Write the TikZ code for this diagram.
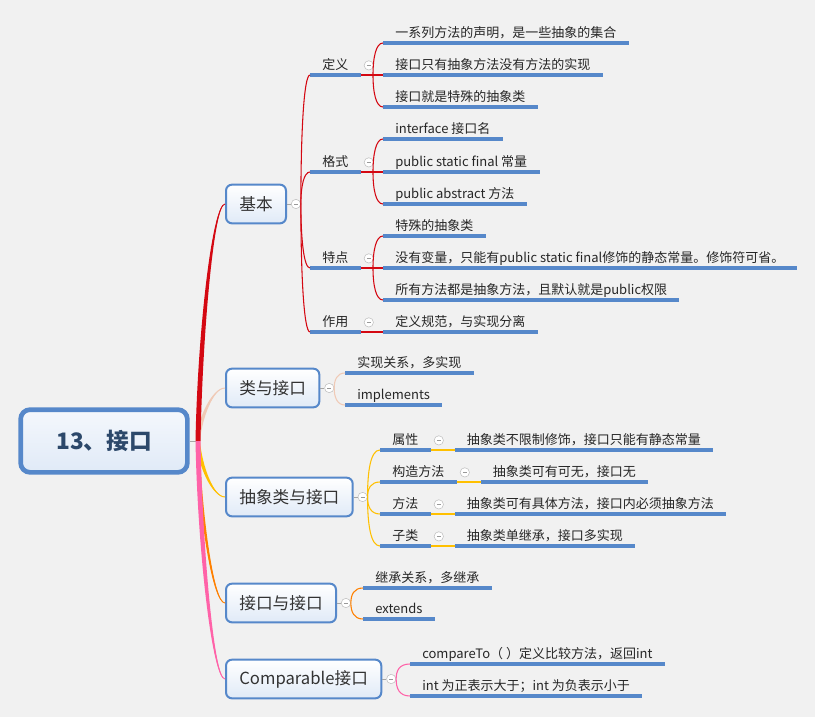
\documentclass[tikz,border=0pt]{standalone}
\usepackage{fontspec}
\setmainfont{Noto Sans CJK SC}
\usepackage{tikz}
\usetikzlibrary{
	positioning,
	calc
}
\definecolor{main}{RGB}{86,136,202}
\definecolor{bgcol}{RGB}{241,241,241}
\definecolor{rootfill}{RGB}{224,234,247}
\definecolor{roottext}{RGB}{44,72,106}
\definecolor{cstred}{RGB}{212,8,18}
\definecolor{cstpeach}{RGB}{240,202,182}
\definecolor{cstgold}{RGB}{255,192,0}
\definecolor{cstorange}{RGB}{255,128,0}
\definecolor{cstpink}{RGB}{255,98,168}
\tikzset{
  % line
	cstl/.style      ={line width=.8pt},
	cstgrey/.style   ={draw=black!35, line width=.6pt},
	cstuline/.style  ={draw=main, line width=2.6pt},
	cstcurve/.style  ={to path={.. controls ($(\tikztostart)!.55!(\tikztostart |- \tikztotarget)$) and ($(\tikztostart |- \tikztotarget)+(3,0)$) .. (\tikztotarget)}},
  % node
	cstroot/.style   ={draw=main, line width=3.5pt, rounded corners=7pt, top color=rootfill!35, bottom color=rootfill, minimum width=125pt, minimum height=47pt, font=\fontsize{17pt}{20pt}\selectfont\bfseries, text=roottext},
	cstmain/.style   ={draw=main, line width=1.5pt, rounded corners=4.5pt, top color=white, bottom color=rootfill, inner xsep=10pt, minimum height=29pt, anchor=west, font=\fontsize{12.5pt}{15pt}\selectfont, text=black!80},
	cstleaf/.style   ={anchor=south west, inner xsep=9pt, inner ysep=0pt, text height=7.5pt, text depth=1.5pt, minimum height=14pt, font=\fontsize{9.75pt}{12pt}\selectfont, text=black!85, append after command={(\tikzlastnode.south west) edge[cstuline] (\tikzlastnode.south east)}},
	cstfold/.style   ={circle, draw=black!25, fill=white, minimum size=7pt, inner sep=0pt, path picture={\draw[black!40, line width=.5pt] ($(path picture bounding box.center)+(-2,0)$) -- ($(path picture bounding box.center)+(2,0)$);}}
}
% tapered branch from (hub) to a main topic
\newcommand{\cstbranch}[3]{%
	\fill[#1] ($(hub)+(-#3,0)$) .. controls ($(hub)!.45!(hub |- #2.west)+(2-#3,0)$) and ($(hub |- #2.west)+(14,0)$) .. (#2.west)
	.. controls ($(hub |- #2.west)+(16,0)$) and ($(hub)!.45!(hub |- #2.west)+(2+#3,0)$) .. ($(hub)+(#3,0)$) -- cycle;
	\draw[#1, line width=.7pt] (hub) .. controls ($(hub)!.45!(hub |- #2.west)+(2,0)$) and ($(hub |- #2.west)+(15,0)$) .. (#2.west);}

\begin{document}
\begin{tikzpicture}[x=.75pt, y=-.75pt]
	\fill[bgcol] (0,0) rectangle (815,717);
	\node[cstroot] (root) at (104,441) {13、接口};
	\coordinate (hub) at (198,441);
	\draw[cstgrey] (root.east) -- (hub);

	\node[cstmain] (jiben) at (225,204) {基本};
	\node[cstmain] (leiyu) at (225,388) {类与接口};
	\node[cstmain] (chouxiang) at (225,497) {抽象类与接口};
	\node[cstmain] (jiekou) at (225,603) {接口与接口};
	\node[cstmain] (compar) at (225,679) {Comparable接口};

	\cstbranch{cstpeach}{leiyu}{2}
	\cstbranch{cstgold}{chouxiang}{2}
	\cstbranch{cstorange}{jiekou}{1.5}
	\cstbranch{cstred}{jiben}{2.5}
	\cstbranch{cstpink}{compar}{2.5}

	\node[cstfold, right=3pt of jiben] (jibenf) {};
	\node[cstfold, right=3pt of leiyu] (leiyuf) {};
	\node[cstfold, right=3pt of chouxiang] (chouxiangf) {};
	\node[cstfold, right=3pt of jiekou] (jiekouf) {};
	\node[cstfold, right=3pt of compar] (comparf) {};
	\draw[cstgrey] (jiben.east) -- (jibenf);
	\draw[cstgrey] (leiyu.east) -- (leiyuf);
	\draw[cstgrey] (chouxiang.east) -- (chouxiangf);
	\draw[cstgrey] (jiekou.east) -- (jiekouf);
	\draw[cstgrey] (compar.east) -- (comparf);

	% 基本
	\node[cstleaf] (dingyi) at (310,75) {定义};
	\node[cstleaf] (geshi) at (310,172) {格式};
	\node[cstleaf] (tedian) at (310,268) {特点};
	\node[cstleaf] (zuoyong) at (310,332) {作用};
	\node[cstfold, right=2.5pt of dingyi] (dingyif) {};
	\node[cstfold, right=2.5pt of geshi] (geshif) {};
	\node[cstfold, right=2.5pt of tedian] (tedianf) {};
	\node[cstfold, right=2.5pt of zuoyong] (zuoyongf) {};
	\draw[cstl,cstred] (jibenf.east) to[cstcurve] (dingyi.south west);
	\draw[cstl,cstred] (jibenf.east) to[cstcurve] (geshi.south west);
	\draw[cstl,cstred] (jibenf.east) to[cstcurve] (tedian.south west);
	\draw[cstl,cstred] (jibenf.east) to[cstcurve] (zuoyong.south west);

	\node[cstleaf] (dingyi1) at (383,43) {一系列方法的声明，是一些抽象的集合};
	\node[cstleaf] (dingyi2) at (383,75) {接口只有抽象方法没有方法的实现};
	\node[cstleaf] (dingyi3) at (383,107) {接口就是特殊的抽象类};
	\coordinate (dingyih) at (373,75);
	\draw[cstl,cstred] (dingyi.south east) -- (dingyih);
	\draw[cstl,cstred] (dingyih) to[cstcurve] (dingyi1.south west);
	\draw[cstl,cstred] (dingyih) -- (dingyi2.south west);
	\draw[cstl,cstred] (dingyih) to[cstcurve] (dingyi3.south west);

	\node[cstleaf] (geshi1) at (383,139) {interface 接口名};
	\node[cstleaf] (geshi2) at (383,172) {public static final 常量};
	\node[cstleaf] (geshi3) at (383,204) {public abstract 方法};
	\coordinate (geshih) at (373,172);
	\draw[cstl,cstred] (geshi.south east) -- (geshih);
	\draw[cstl,cstred] (geshih) to[cstcurve] (geshi1.south west);
	\draw[cstl,cstred] (geshih) -- (geshi2.south west);
	\draw[cstl,cstred] (geshih) to[cstcurve] (geshi3.south west);

	\node[cstleaf] (tedian1) at (383,236) {特殊的抽象类};
	\node[cstleaf] (tedian2) at (383,268) {没有变量，只能有public static final修饰的静态常量。修饰符可省。};
	\node[cstleaf] (tedian3) at (383,300) {所有方法都是抽象方法，且默认就是public权限};
	\coordinate (tedianh) at (373,268);
	\draw[cstl,cstred] (tedian.south east) -- (tedianh);
	\draw[cstl,cstred] (tedianh) to[cstcurve] (tedian1.south west);
	\draw[cstl,cstred] (tedianh) -- (tedian2.south west);
	\draw[cstl,cstred] (tedianh) to[cstcurve] (tedian3.south west);

	\node[cstleaf] (zuoyong1) at (383,332) {定义规范，与实现分离};
	\draw[cstl,cstred] (zuoyong.south east) -- (zuoyong1.south west);

	% 类与接口
	\node[cstleaf] (leiyu1) at (345,373) {实现关系，多实现};
	\node[cstleaf] (leiyu2) at (345,405) {implements};
	\draw[cstl,cstpeach] (leiyuf.east) to[cstcurve] (leiyu1.south west);
	\draw[cstl,cstpeach] (leiyuf.east) to[cstcurve] (leiyu2.south west);

	% 抽象类与接口
	\node[cstleaf] (shuxing) at (380,450) {属性};
	\node[cstleaf] (gouzao) at (380,482) {构造方法};
	\node[cstleaf] (fangfa) at (380,514) {方法};
	\node[cstleaf] (zilei) at (380,546) {子类};
	\node[cstfold, right=2.5pt of shuxing] (shuxingf) {};
	\node[cstfold, right=2.5pt of gouzao] (gouzaof) {};
	\node[cstfold, right=2.5pt of fangfa] (fangfaf) {};
	\node[cstfold, right=2.5pt of zilei] (zileif) {};
	\draw[cstl,cstgold] (chouxiangf.east) to[cstcurve] (shuxing.south west);
	\draw[cstl,cstgold] (chouxiangf.east) to[cstcurve] (gouzao.south west);
	\draw[cstl,cstgold] (chouxiangf.east) to[cstcurve] (fangfa.south west);
	\draw[cstl,cstgold] (chouxiangf.east) to[cstcurve] (zilei.south west);
	\node[cstleaf, right=18pt of shuxing.south east, anchor=south west] (shuxing1) {抽象类不限制修饰，接口只能有静态常量};
	\node[cstleaf, right=18pt of gouzao.south east, anchor=south west] (gouzao1) {抽象类可有可无，接口无};
	\node[cstleaf, right=18pt of fangfa.south east, anchor=south west] (fangfa1) {抽象类可有具体方法，接口内必须抽象方法};
	\node[cstleaf, right=18pt of zilei.south east, anchor=south west] (zilei1) {抽象类单继承，接口多实现};
	\draw[cstl,cstgold] (shuxing.south east) -- (shuxing1.south west);
	\draw[cstl,cstgold] (gouzao.south east) -- (gouzao1.south west);
	\draw[cstl,cstgold] (fangfa.south east) -- (fangfa1.south west);
	\draw[cstl,cstgold] (zilei.south east) -- (zilei1.south west);

	% 接口与接口
	\node[cstleaf] (jiekou1) at (363,588) {继承关系，多继承};
	\node[cstleaf] (jiekou2) at (363,619) {extends};
	\draw[cstl,cstorange] (jiekouf.east) to[cstcurve] (jiekou1.south west);
	\draw[cstl,cstorange] (jiekouf.east) to[cstcurve] (jiekou2.south west);

	% Comparable接口
	\node[cstleaf] (compar1) at (410,664) {compareTo（ ）定义比较方法，返回int};
	\node[cstleaf] (compar2) at (410,696) {int 为正表示大于；int 为负表示小于};
	\draw[cstl,cstpink] (comparf.east) to[cstcurve] (compar1.south west);
	\draw[cstl,cstpink] (comparf.east) to[cstcurve] (compar2.south west);
\end{tikzpicture}
\end{document}
